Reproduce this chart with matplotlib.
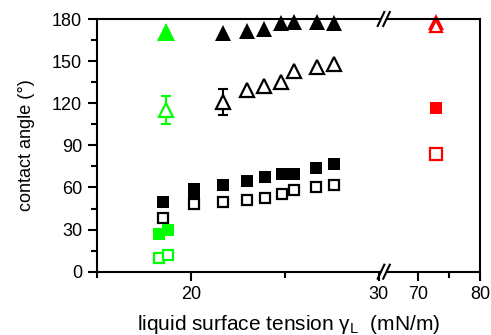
import matplotlib
matplotlib.use("Agg")
import matplotlib.pyplot as plt
from matplotlib.ticker import FixedLocator
import numpy as np

plt.rcParams['font.family'] = ['Liberation Sans', 'DejaVu Sans']
plt.rcParams['mathtext.fontset'] = 'custom'
plt.rcParams['mathtext.rm'] = 'Liberation Sans'

# ---- data ----
# black series (left segment)
sq_fill_x = [18.5, 20.2, 20.2, 21.7, 23.0, 23.95, 24.85, 25.5, 26.65, 27.6]
sq_fill_y = [50, 59, 55.5, 62, 64.4, 67.2, 69.5, 69.5, 74, 77]
sq_open_x = [18.5, 20.2, 21.7, 23.0, 23.95, 24.85, 25.5, 26.65, 27.6]
sq_open_y = [38, 48, 50, 51.3, 52.8, 55.6, 58.4, 60.3, 61.8]
tri_fill_x = [21.7, 23.0, 23.9, 24.8, 25.5, 26.7, 27.6]
tri_fill_y = [170.2, 171.3, 172.6, 177.5, 177.7, 177.8, 177]
tri_open_x = [21.7, 23.0, 23.9, 24.8, 25.5, 26.7, 27.6]
tri_open_y = [120.9, 129.1, 132, 135.1, 142.8, 145.7, 148.2]
tri_open_err = [9.5, 0, 0, 0, 0, 0, 0]

# green series
g_sq_fill_x = [18.3, 18.8]
g_sq_fill_y = [26.7, 29.7]
g_sq_open_x = [18.3, 18.8]
g_sq_open_y = [9.9, 12.2]
g_tri_fill_x = [18.7]
g_tri_fill_y = [171]
g_tri_open_x = [18.7]
g_tri_open_y = [115.5]
g_tri_open_err = [10]

# red series (right segment, water)
r_x = [72.8]
r_sq_fill_y = [116.7]
r_sq_open_y = [84]
r_tri_fill_y = [177.6]
r_tri_open_y = [175.2]

x_ticks_left = [20, 30]
x_minor_left = [15, 25]
x_ticks_right = [70, 80]
x_minor_right = [75]
y_ticks = [0, 30, 60, 90, 120, 150, 180]
y_minor = [15, 45, 75, 105, 135, 165]

W, H = 491, 335
fig = plt.figure(figsize=(W / 100, H / 100), dpi=100)

x0, xb, x1 = 96.7, 382.7, 480.0
ytop, ybot = 19.0, 271.7
b = 1 - ybot / H
h = (ybot - ytop) / H
ax1 = fig.add_axes([x0 / W, b, (xb - x0) / W, h])
ax2 = fig.add_axes([xb / W, b, (x1 - xb) / W, h], sharey=ax1)

lw = 1.5
GREEN = '#00ff00'
RED = '#ff0000'
ms_sq = 9
ms_tri = 11.5
mew = 1.6

for ax in (ax1, ax2):
    for s in ax.spines.values():
        s.set_linewidth(lw)
ax1.spines['right'].set_visible(False)
ax2.spines['left'].set_visible(False)

ax1.set_xlim(15, 15 + (xb - x0) / 18.8)
ax2.set_xlim(70 - (418.3 - xb) / 6.17, 80)
ax1.set_ylim(0, 180)

# black
ax1.plot(sq_fill_x, sq_fill_y, 's', color='k', ms=ms_sq, mew=0, clip_on=False)
ax1.plot(sq_open_x, sq_open_y, 's', mfc='white', mec='k', ms=ms_sq - 1.2, mew=mew, clip_on=False)
ax1.plot(tri_fill_x, tri_fill_y, '^', color='k', ms=ms_tri, mew=0, clip_on=False)
ax1.errorbar(tri_open_x[:1], tri_open_y[:1], yerr=tri_open_err[:1], fmt='none',
             ecolor='k', elinewidth=1.5, capsize=3.8, capthick=1.5, clip_on=False)
ax1.plot(tri_open_x, tri_open_y, '^', mfc='white', mec='k', ms=ms_tri - 1.5, mew=mew, clip_on=False)

# green
ax1.plot(g_sq_fill_x, g_sq_fill_y, 's', color=GREEN, ms=ms_sq, mew=0, clip_on=False)
ax1.plot(g_sq_open_x, g_sq_open_y, 's', mfc='white', mec=GREEN, ms=ms_sq - 1.2, mew=mew, clip_on=False)
ax1.plot(g_tri_fill_x, g_tri_fill_y, '^', color=GREEN, ms=ms_tri + 1, mew=0, clip_on=False)
ax1.errorbar(g_tri_open_x, g_tri_open_y, yerr=g_tri_open_err, fmt='none',
             ecolor=GREEN, elinewidth=1.5, capsize=3.8, capthick=1.5, clip_on=False)
ax1.plot(g_tri_open_x, g_tri_open_y, '^', mfc='white', mec=GREEN, ms=ms_tri - 1.5, mew=mew, clip_on=False)

# red
ax2.plot(r_x, r_sq_fill_y, 's', color=RED, ms=ms_sq, mew=0, clip_on=False)
ax2.plot(r_x, r_sq_open_y, 's', mfc='white', mec=RED, ms=ms_sq - 0.5, mew=mew, clip_on=False)
ax2.plot(r_x, r_tri_fill_y, '^', color=RED, ms=ms_tri, mew=0, clip_on=False)
ax2.plot(r_x, r_tri_open_y, '^', mfc='white', mec=RED, ms=ms_tri - 2.5, mew=mew, clip_on=False)

# ticks
ax1.yaxis.set_major_locator(FixedLocator(y_ticks))
ax1.yaxis.set_minor_locator(FixedLocator(y_minor))
ax1.xaxis.set_major_locator(FixedLocator(x_ticks_left))
ax1.xaxis.set_minor_locator(FixedLocator(x_minor_left))
ax2.xaxis.set_major_locator(FixedLocator(x_ticks_right))
ax2.xaxis.set_minor_locator(FixedLocator(x_minor_right))
ax1.tick_params(axis='both', which='major', direction='out', length=6.5, width=lw,
                labelsize=13, pad=4)
ax1.tick_params(axis='both', which='minor', direction='out', length=4.2, width=lw)
ax1.tick_params(axis='y', which='both', right=False)
ax1.tick_params(axis='x', which='both', top=False)
ax2.tick_params(axis='x', which='major', direction='out', length=6.5, width=lw,
                labelsize=13, pad=4)
ax2.tick_params(axis='x', which='minor', direction='out', length=4.2, width=lw)
ax2.tick_params(axis='x', which='both', top=False)
ax2.tick_params(axis='y', which='both', left=False, right=False, labelleft=False)
# hide the tick mark at 30 (sits under the break)
for t in ax1.xaxis.get_major_ticks():
    if abs(t.get_loc() - 30) < 1e-6:
        t.tick1line.set_visible(False)

ax1.set_ylabel('contact angle (°)', fontsize=13, labelpad=12)
fig.text((x0 + x1) / 2 / W, 1 - 330 / H,
         r'liquid surface tension γ$_\mathregular{L}$  (mN/m)',
         ha='center', va='baseline', fontsize=15)

# axis break marks
wpx = x1 - xb
hpx = ybot - ytop
for yy in (0, 1):
    ax2.add_patch(plt.Rectangle((-1.7 / wpx, yy - 0.012), 5.5 / wpx, 0.024,
                                transform=ax2.transAxes, facecolor='white',
                                edgecolor='none', clip_on=False, zorder=5))
    for cx in (-1.7, 3.8):
        ax2.plot([(cx - 3.3) / wpx, (cx + 3.3) / wpx],
                 [yy - 7 / hpx, yy + 7 / hpx], transform=ax2.transAxes,
                 color='k', lw=lw, clip_on=False, zorder=6)

fig.savefig('out.png', dpi=100)
